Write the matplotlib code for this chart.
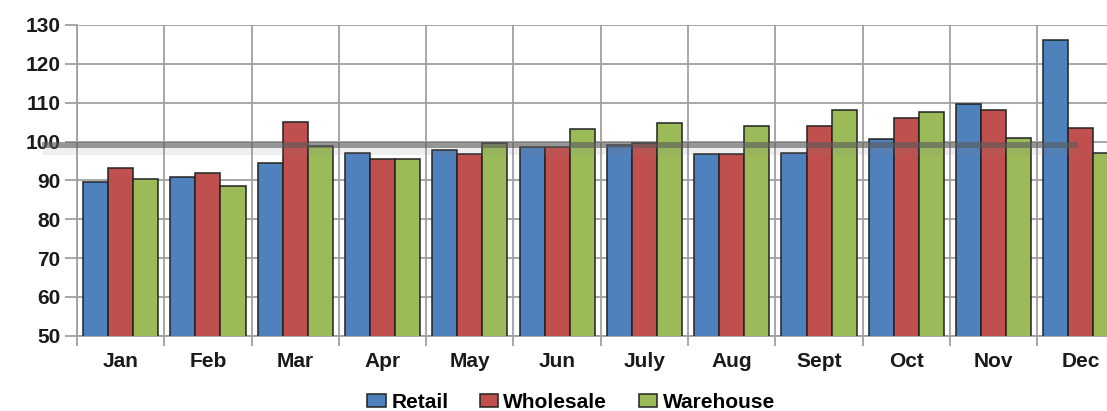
import matplotlib.pyplot as plt
import numpy as np

months = ['Jan', 'Feb', 'Mar', 'Apr', 'May', 'Jun', 'July', 'Aug', 'Sept', 'Oct', 'Nov', 'Dec']
retail = [89.5, 90.9, 94.4, 97.0, 97.7, 98.5, 99.0, 96.7, 97.0, 100.7, 109.7, 126.1]
wholesale = [93.1, 92.0, 105.1, 95.4, 96.8, 98.5, 99.5, 96.7, 103.9, 106.1, 108.1, 103.5]
warehouse = [90.4, 88.5, 98.8, 95.6, 99.7, 103.2, 104.8, 104.1, 108.0, 107.5, 100.8, 97.0]
baseline = 99.1

plt.rcParams['font.family'] = ['Liberation Sans', 'DejaVu Sans']
plt.rcParams['font.weight'] = 'bold'

fig = plt.figure(figsize=(11.07, 4.11), dpi=100)
# axes runs past the right edge so the last group is partly cut off
ax = fig.add_axes([77 / 1107, 75.3 / 411, 1047.6 / 1107, 310.7 / 411])

x = np.arange(len(months))
w = 0.287
colors = ['#4F81BD', '#C0504D', '#9BBB59']
for i, (vals, name) in enumerate(zip([retail, wholesale, warehouse],
                                     ['Retail', 'Wholesale', 'Warehouse'])):
    ax.bar(x + (i - 1) * w, vals, w, bottom=0, color=colors[i],
           edgecolor='#222222', linewidth=1.1, label=name, zorder=3)

ax.set_xlim(-0.5, len(months) - 0.5)
ax.set_ylim(50, 130)
ax.set_yticks(range(50, 131, 10))
ax.set_xticks(x)
ax.set_xticklabels(months)
ax.set_xticks(np.arange(-0.5, len(months), 1), minor=True)

grid_c = '#a0a0a0'
ax.grid(axis='y', which='major', color=grid_c, linewidth=1.3, zorder=0)
ax.grid(axis='x', which='minor', color=grid_c, linewidth=1.3, zorder=0)
ax.grid(axis='x', which='major', visible=False)

ax.tick_params(axis='x', which='major', length=0, pad=12, labelsize=15, labelcolor='#1a1a1a')
ax.tick_params(axis='x', which='minor', length=7, color=grid_c, width=1.3)
ax.tick_params(axis='y', length=9, color=grid_c, width=1.3, pad=3, labelsize=15, labelcolor='#1a1a1a')

for s in ['top', 'right']:
    ax.spines[s].set_visible(False)
for s in ['left', 'bottom']:
    ax.spines[s].set_color(grid_c)
    ax.spines[s].set_linewidth(1.3)

# soft gray reference line across the chart
ax.plot([-0.9, 10.97], [baseline - 0.9, baseline - 0.9], color='#808080',
        linewidth=8, alpha=0.12, solid_capstyle='butt', clip_on=False, zorder=4)
ax.plot([-0.9, 10.97], [baseline, baseline], color='#5a5a5a',
        linewidth=4.3, alpha=0.6, solid_capstyle='butt', clip_on=False, zorder=4)

fig.legend(loc='center', bbox_to_anchor=(571 / 1107, 1 - 402 / 411), ncol=3,
           frameon=False, fontsize=15, handlelength=0.9, handleheight=0.6,
           handletextpad=0.25, columnspacing=1.5, borderaxespad=0)

fig.savefig('out.png', dpi=100)
